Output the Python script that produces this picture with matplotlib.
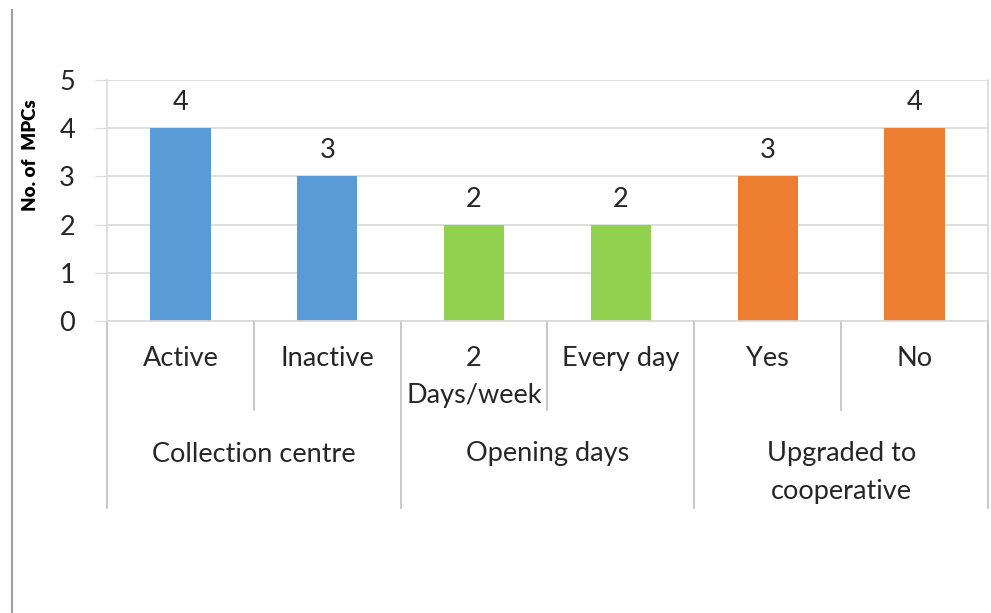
import matplotlib.pyplot as plt
from matplotlib.lines import Line2D
import matplotlib.transforms as mtransforms

# data
categories = ['Active', 'Inactive', '2\nDays/week', 'Every day', 'Yes', 'No']
groups = ['Collection centre', 'Opening days', 'Upgraded to\ncooperative']
group_sizes = [2, 2, 2]
values = [4, 3, 2, 2, 3, 4]
bar_colors = ['#5B9BD5', '#5B9BD5', '#92D050', '#92D050', '#ED7D31', '#ED7D31']

plt.rcParams['font.family'] = ['Lato', 'DejaVu Sans']
fs = 19.5

fig = plt.figure(figsize=(9.91, 6.13), dpi=100)
ax = fig.add_axes([107/991, 1-321/613, 881/991, 241/613])

x = list(range(len(categories)))
ax.bar(x, values, width=0.41, color=bar_colors, zorder=2)
for xi, v in zip(x, values):
    ax.text(xi, v + 0.27, str(v), ha='center', va='bottom', fontsize=fs, color='#262626')

ax.set_xlim(-0.5, len(categories) - 0.5)
ax.set_ylim(0, 5)
ax.set_yticks(range(6))
ax.set_yticklabels([str(i) for i in range(6)], fontsize=fs, color='#262626')
ax.yaxis.grid(True, color='#D9D9D9', linewidth=1.2, zorder=0)
ax.set_axisbelow(True)
ax.tick_params(axis='y', length=9, color='#D9D9D9', pad=14)
ax.set_xticks([])
ax.spines['top'].set_visible(False)
for s in ['left', 'right', 'bottom']:
    ax.spines[s].set_color('#D9D9D9')
    ax.spines[s].set_linewidth(1.2)

# y axis title, placed like the original (above the axis middle)
fig.text(31/991, 1 - 155/613, 'No. of  MPCs', rotation=90, ha='center', va='center',
         fontsize=13.5, fontweight='heavy', color='#000000')

trans = mtransforms.blended_transform_factory(ax.transData, ax.transAxes)
line_kw = dict(color='#BFBFBF', linewidth=1.2, transform=trans, clip_on=False)

# category labels and inner separators
for xi, lab in zip(x, categories):
    ax.text(xi, -0.105, lab, ha='center', va='top', fontsize=fs, color='#262626',
            transform=trans, linespacing=1.6)

pos = 0
bounds = [-0.5]
for gs in group_sizes:
    pos += gs
    bounds.append(pos - 0.5)
for i in range(1, len(categories)):
    b = i - 0.5
    if b in bounds:
        continue
    ax.add_line(Line2D([b, b], [0, -0.369], **line_kw))
for b in bounds:
    ax.add_line(Line2D([b, b], [0, -0.776], **line_kw))

# group labels
for gi, g in enumerate(groups):
    center = (bounds[gi] + bounds[gi + 1]) / 2
    ax.text(center, -0.50, g, ha='center', va='top', fontsize=fs, color='#262626',
            transform=trans, linespacing=1.6)

# left border line of the original picture
fig.add_artist(Line2D([12/991, 12/991], [0, 1 - 10/613], color='#9E9E9E', linewidth=1.5))

fig.savefig('out.png', dpi=100)
